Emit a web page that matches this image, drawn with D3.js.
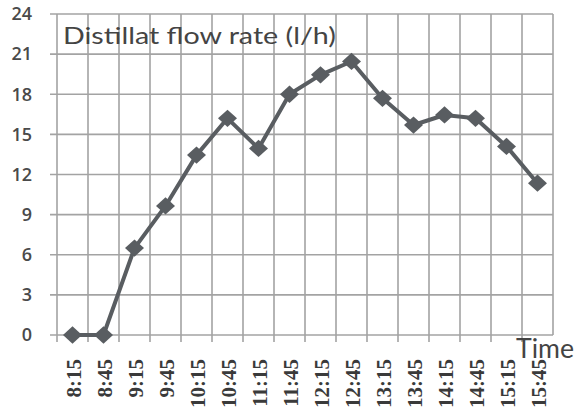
<!DOCTYPE html>
<html><head><meta charset="utf-8">
<script src="https://cdn.jsdelivr.net/npm/d3@7"></script>
<style>body{margin:0;background:#fff}svg{display:block}</style>
</head><body>
<svg id="c" width="574" height="412"></svg>
<script>
const categories = ["8:15","8:45","9:15","9:45","10:15","10:45","11:15","11:45","12:15","12:45","13:15","13:45","14:15","14:45","15:15","15:45"];
const flowRate = [0, 0, 6.5, 9.65, 13.45, 16.2, 13.95, 18.0, 19.45, 20.45, 17.7, 15.7, 16.45, 16.2, 14.1, 11.35];
const yTicks = [0, 3, 6, 9, 12, 15, 18, 21, 24];
const chartTitle = "Distillat flow rate (l/h)";
const xTitle = "Time";

(function () {
const svg = d3.select("#c");
const mLeft = 57, mRight = 553, mTop = 14, mBottom = 335;
const x = d3.scaleBand().domain(categories).range([mLeft, mRight]);
const y = d3.scaleLinear().domain([0, 24]).range([mBottom, mTop]);
const gridColor = "#a3a3a3";

// horizontal gridlines (with outward ticks)
svg.append("g").selectAll("line").data(yTicks).join("line")
  .attr("x1", mLeft - 7).attr("x2", mRight)
  .attr("y1", d => y(d)).attr("y2", d => y(d))
  .attr("stroke", gridColor).attr("stroke-width", 1.6);

// vertical gridlines at category boundaries
const bounds = categories.map(c => x(c)).concat([mRight]);
svg.append("g").selectAll("line").data(bounds).join("line")
  .attr("x1", d => d).attr("x2", d => d)
  .attr("y1", mTop).attr("y2", (d, i) => i === bounds.length - 1 ? mBottom : mBottom + 7)
  .attr("stroke", gridColor).attr("stroke-width", 1.6);

// y tick labels
svg.append("g").selectAll("text").data(yTicks).join("text")
  .attr("x", 32).attr("y", d => y(d)).attr("dy", "0.35em")
  .attr("text-anchor", "end")
  .attr("font-family", "Open Sans, sans-serif").attr("font-size", 18).attr("font-weight", 600)
  .attr("fill", "#4a4a4a").text(d => d);

// x tick labels rotated
svg.append("g").selectAll("text").data(categories).join("text")
  .attr("transform", d => `translate(${x(d) + x.bandwidth() / 2 + 1},${mBottom + 24}) rotate(-90)`)
  .attr("text-anchor", "end").attr("dy", "0.35em")
  .attr("font-family", "Liberation Serif, serif").attr("font-size", 21).attr("font-weight", 600)
  .attr("fill", "#3a3a3a").text(d => d);

// line
const line = d3.line().x((d, i) => x(categories[i]) + x.bandwidth() / 2).y(d => y(d));
svg.append("path").datum(flowRate).attr("d", line)
  .attr("fill", "none").attr("stroke", "#595d61").attr("stroke-width", 4)
  .attr("stroke-linejoin", "round");

// diamond markers
const sym = d3.symbol().type(d3.symbolDiamond2).size(190);
svg.append("g").selectAll("path").data(flowRate).join("path")
  .attr("transform", (d, i) => `translate(${x(categories[i]) + x.bandwidth() / 2},${y(d)}) scale(1.1,1)`)
  .attr("d", sym).attr("fill", "#595d61");

// title
svg.append("text").attr("x", 63).attr("y", 44)
  .attr("font-family", "Lato, sans-serif").attr("font-size", 23)
  .attr("fill", "#444").attr("textLength", 273).attr("lengthAdjust", "spacingAndGlyphs")
  .text(chartTitle);

// x-axis title
svg.append("text").attr("x", 516).attr("y", 358)
  .attr("font-family", "Lato, sans-serif").attr("font-size", 27)
  .attr("fill", "#444").attr("textLength", 58).attr("lengthAdjust", "spacingAndGlyphs")
  .text(xTitle);
})();
</script>
</body></html>
